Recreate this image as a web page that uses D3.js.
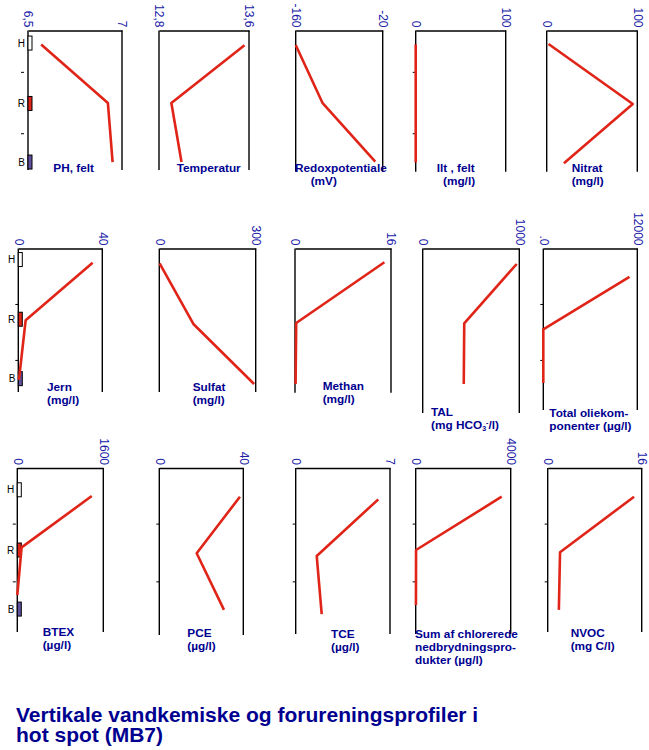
<!DOCTYPE html>
<html>
<head>
<meta charset="utf-8">
<script src="https://cdn.jsdelivr.net/npm/d3@7"></script>
<style>
  body { margin: 0; background: #fff; }
  svg { display: block; }
  .title { font-family: "Liberation Sans", Arial, sans-serif; font-weight: bold; fill: #000090; }
  .ptitle { font-family: "Liberation Sans", Arial, sans-serif; font-weight: bold; font-size: 11.8px; fill: #000090; }
  .tick-label { font-family: "Liberation Sans", Arial, sans-serif; font-size: 12px; fill: #2020a8; }
  .level { font-family: "Liberation Sans", Arial, sans-serif; font-size: 10px; fill: #000; }
</style>
</head>
<body>
<svg width="649" height="750"></svg>
<script>
// sample levels (filter screens), top to bottom
var levels = ['H', 'R', 'B'];

// panel titles, one array of lines per parameter
var titles = [
    ['PH, felt'], ['Temperatur'], ['Redoxpotentiale', '(mV)'], ['Ilt , felt', '(mg/l)'], ['Nitrat', '(mg/l)'],
    ['Jern', '(mg/l)'], ['Sulfat', '(mg/l)'], ['Methan', '(mg/l)'], ['TAL', 'HCO'], ['Total oliekom-', 'ponenter (\u00b5g/l)'],
    ['BTEX', '(\u00b5g/l)'], ['PCE', '(\u00b5g/l)'], ['TCE', '(\u00b5g/l)'], ['Sum af chlorerede', 'nedbrydningspro-', 'dukter (\u00b5g/l)'], ['NVOC', '(mg C/l)']
];

// x axis ranges and their labels
var axisMin = [6.5, 12.8, -160, 0, 0, 0, 0, 0, 0, 0, 0, 0, 0, 0, 0];
var axisMax = [7, 13.6, -20, 100, 100, 40, 300, 16, 1000, 12000, 1600, 40, 7, 4000, 16];
var minLabels = ['6,5', '12,8', '-160', '0', '0', '0', '0', '0', '0', '.0', '0', '0', '0', '0', '0'];
var maxLabels = ['7', '13,6', '-20', '100', '100', '40', '300', '16', '1000', '12000', '1600', '40', '7', '4000', '16'];

// measured values at H, R, B
var phFelt = [6.57, 6.925, 6.95];
var temperatur = [13.56, 12.91, 13.0];
var redox = [-160, -117, -32];
var iltFelt = [0, 0, 0];
var nitrat = [2, 95, 19];
var jern = [35.4, 3.5, 0.3];
var sulfat = [1, 106, 295];
var methan = [14.9, 0.2, 0.1];
var tal = [973, 430, 425];
var totalOlie = [11000, 0, 0];
var btex = [1385, 80, 0];
var pce = [38.4, 17.8, 30.8];
var tce = [6.13, 1.56, 1.93];
var sumChlor = [3620, 15, 10];
var nvoc = [14.7, 2.1, 1.9];
var values = [phFelt, temperatur, redox, iltFelt, nitrat, jern, sulfat, methan, tal, totalOlie, btex, pce, tce, sumChlor, nvoc];

// sample depth of each point (relative depth units 0-10 within a row)
var depths = [
    [1.0, 5.2, 9.43], [1.05, 5.2, 9.43], [1.04, 5.18, 9.4], [1.0, 5.2, 9.45], [0.97, 5.27, 9.52],
    [0.99, 5.0, 9.16], [1.03, 5.26, 9.44], [0.96, 5.19, 9.44], [1.08, 5.21, 9.44], [1.97, 5.63, 9.37],
    [1.7, 4.81, 7.7], [1.74, 5.17, 8.6], [1.9, 5.33, 8.85], [1.74, 4.97, 8.3], [1.74, 5.11, 8.6]
];
// filter boxes (first panel of each row) and small depth ticks, same units
var boxDepths = [[0.9, 5.23, 9.43], [0.77, 4.93, 9.07], [1.32, 4.97, 8.55]];
var rowTicks = [[3.0, 7.4], [3.9, 7.8], [3.4, 6.9]];

// ---------- layout ----------
var rows = [
    {top: 30.5, bottom: 170},
    {top: 248.5, bottom: 392},
    {top: 468, bottom: 633}
];
var panelX = [
    [28, 122], [159, 249], [295.7, 382.7], [415.7, 505.7], [546.7, 637.3],
    [18.3, 102.3], [159.3, 255.7], [295, 391], [422.7, 519.3], [543.3, 637.3],
    [17.3, 103.3], [159.3, 243.3], [295.7, 390], [415.7, 510.7], [547.7, 641.7]
];
var panelBottom = [170, 170, 171.7, 171.7, 171.7, 392, 392, 392.7, 413, 410, 632, 635, 634, 634, 632];
var showTicks = [true, false, false, true, false, true, false, false, false, true, true, true, true, true, true];
var tickGap = [4, 0, 0, 0, 0, 0, 0, 0, 0, 0, 1.5, 0, 0, 0, 0];
var titleX = [
    [53.3], [176.7], [295, 310.7], [436.7, 443], [571.7, 571.7],
    [47, 47], [192.7, 192.7], [322.7, 322.7], [431, 431], [549.3, 549.3],
    [42.7, 42.7], [187.3, 187.3], [331, 331], [415, 415, 415], [570.7, 570.7]
];
var titleY = [172, 172, 172, 172, 172, 391, 391, 390, 416, 417, 636, 637, 638, 638, 637];

var lineColor = '#e02418';
var svg = d3.select('svg');

values.forEach(function(vals, i) {
    var row = Math.floor(i / 5);
    var r = rows[row];
    var x0 = panelX[i][0], x1 = panelX[i][1];
    var g = svg.append('g').attr('class', 'panel');

    var xScale = d3.scaleLinear().domain([axisMin[i], axisMax[i]]).range([x0, x1]);
    var yScale = d3.scaleLinear().domain([0, 10]).range([r.top, r.bottom]);

    // top axis with rotated end labels
    var xAxis = d3.axisTop(xScale)
        .tickValues([axisMin[i], axisMax[i]])
        .tickFormat(function(d, k) { return k === 0 ? minLabels[i] : maxLabels[i]; })
        .tickSize(0).tickSizeOuter(0);
    var ax = g.append('g').attr('transform', 'translate(0,' + r.top + ')').call(xAxis);
    ax.select('.domain').attr('stroke', '#000').attr('stroke-width', 1.4);
    ax.selectAll('.tick text')
        .attr('class', 'tick-label')
        .attr('x', 0).attr('y', 0).attr('dy', '0.35em')
        .attr('text-anchor', 'end')
        .attr('fill', null)
        .attr('transform', 'translate(0,-3) rotate(90)');
    ax.attr('font-size', null).attr('font-family', null);

    // vertical frame lines
    g.selectAll('.vline').data([x0, x1]).enter().append('line')
        .attr('x1', function(d) { return d; }).attr('x2', function(d) { return d; })
        .attr('y1', r.top).attr('y2', panelBottom[i])
        .attr('stroke', '#000').attr('stroke-width', 1.4);

    // small depth ticks
    if (showTicks[i]) {
        g.selectAll('.dtick').data(rowTicks[row]).enter().append('line')
            .attr('x1', x0 - tickGap[i] - 3).attr('x2', x0 - tickGap[i])
            .attr('y1', function(d) { return yScale(d); }).attr('y2', function(d) { return yScale(d); })
            .attr('stroke', '#000').attr('stroke-width', 1);
    }

    // level boxes and labels in first column
    if (i % 5 === 0) {
        var boxFill = ['#fff', lineColor, '#6050a0'];
        g.selectAll('.box').data(boxDepths[row]).enter().append('rect')
            .attr('x', x0).attr('width', 4)
            .attr('y', function(d) { return yScale(d) - 7; }).attr('height', 14)
            .attr('fill', function(d, k) { return boxFill[k]; })
            .attr('stroke', '#000').attr('stroke-width', 1);
        g.selectAll('.level').data(boxDepths[row]).enter().append('text')
            .attr('class', 'level')
            .attr('x', x0 - 3)
            .attr('y', function(d) { return yScale(d); })
            .attr('dy', '0.36em')
            .attr('text-anchor', 'end')
            .text(function(d, k) { return levels[k]; });
    }

    // profile line
    var line = d3.line()
        .x(function(d) { return xScale(d); })
        .y(function(d, k) { return yScale(depths[i][k]); });
    g.append('path').datum(vals)
        .attr('d', line)
        .attr('fill', 'none')
        .attr('stroke', lineColor)
        .attr('stroke-width', 2.6)
        .attr('stroke-linejoin', 'round');

    // panel title
    titles[i].forEach(function(t, k) {
        var txt = g.append('text').attr('class', 'ptitle')
            .attr('x', titleX[i][k])
            .attr('y', titleY[i] + k * 13);
        if (t === 'HCO') {
            // (mg HCO3-/l) with sub/superscript
            txt.append('tspan').text('(mg HCO');
            txt.append('tspan').attr('font-size', '7px').attr('dy', 2).text('3');
            txt.append('tspan').attr('font-size', '7px').attr('dy', -6).text('-');
            txt.append('tspan').attr('dy', 4).text('/l)');
        } else {
            txt.text(t);
        }
    });
});

// main title
var title = svg.append('text').attr('class', 'title').attr('x', 16).attr('y', 721.5).style('font-size', '21px');
title.append('tspan').attr('x', 16).text('Vertikale vandkemiske og forureningsprofiler i');
title.append('tspan').attr('x', 16).attr('dy', 20).text('hot spot (MB7)');
</script>
</body>
</html>
